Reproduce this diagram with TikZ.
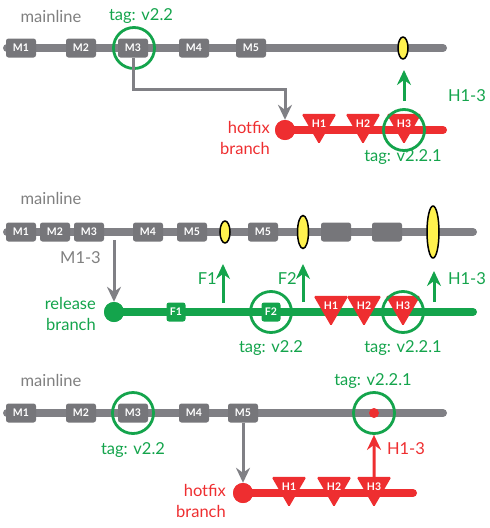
\documentclass[tikz,border=0pt]{standalone}
\usepackage{fontspec}
\setmainfont{Lato}
\usetikzlibrary{arrows.meta,shapes.geometric}
\definecolor{cbar}{HTML}{808085}
\definecolor{cbox}{HTML}{76767A}
\definecolor{cgreen}{HTML}{14A44C}
\definecolor{cred}{HTML}{EE2E30}
\definecolor{cyel}{HTML}{FFF24E}
\definecolor{ctext}{HTML}{808080}
\begin{document}
\begin{tikzpicture}[x=1pt,y=-1pt,
  bar/.style={line width=8pt, line cap=round},
  commit/.style={rectangle, rounded corners=2.5pt, fill=cbox, minimum width=30pt, minimum height=19pt, inner sep=0pt, text=white, font=\fontsize{10.5}{10.5}\selectfont\bfseries},
  fcommit/.style={commit, fill=cgreen, minimum width=19pt},
  tagc/.style={circle, draw=cgreen, line width=2.8pt, minimum size=41pt, inner sep=0pt},
  yel/.style={ellipse, draw=black, line width=1.5pt, fill=cyel, inner sep=0pt},
  hx/.style={regular polygon, regular polygon sides=3, shape border rotate=180, fill=cred, minimum size=35pt, inner sep=0pt, rounded corners=1.5pt, text=white, font=\fontsize{10.5}{10.5}\selectfont\bfseries},
  startc/.style={circle, minimum size=20pt, inner sep=0pt},
  lbl/.style={font=\fontsize{16.5}{21}\selectfont, inner sep=0pt},
  arr/.style={-{Stealth[length=15pt,width=14pt,inset=5pt]}, line width=3pt}
]
\useasboundingbox (0,0) rectangle (490,528);

% ================= Panel 1 =================
\draw[bar, cbar] (7,48) -- (443,48);
\node[lbl, text=ctext] (t1main) at (51,16) {mainline};
\node[lbl, text=cgreen] (t1tag) at (141,16) {tag: v2.2};
\node[commit] (a1m1) at (21,48) {M1};
\node[commit] (a1m2) at (81,48) {M2};
\node[commit] (a1m3) at (133,48) {M3};
\node[commit] (a1m4) at (194,48) {M4};
\node[commit] (a1m5) at (251,48) {M5};
\node[yel, minimum width=10pt, minimum height=22pt] (a1y) at (403,48) {};
\node[tagc] (a1tag) at (134,48) {};
\node[startc, fill=cred] (h1s) at (285,130) {};
\draw[bar, cred] (h1s.center) -- (443,130);
\node[startc, fill=cred] at (285,130) {};
\node[hx] (h1h1) at (319,124) {H1};
\node[hx] (h1h2) at (363,124) {H2};
\node[hx] (h1h3) at (404,124) {H3};
\node[tagc] (h1tag) at (404,130) {};
\draw[arr, cbar] (a1m3.south) -- ++(0,32) -| (h1s.north);
\coordinate (g1a) at (404,101);
\coordinate (g1b) at (404,70);
\draw[arr, cgreen] (g1a) -- (g1b);
\node[lbl, text=cgreen] (t1h13) at (467,96) {H1-3};
\node[lbl, text=cgreen] (t1tag2) at (403,157) {tag: v2.2.1};
\node[lbl, text=cred, align=right, anchor=east] (t1hot) at (270,138) {hotfix\\branch};

% ================= Panel 2 =================
\draw[bar, cbar] (7,232) -- (473,232);
\node[lbl, text=ctext] (t2main) at (51,198) {mainline};
\node[commit] (b1) at (21,232) {M1};
\node[commit] (b2) at (55,232) {M2};
\node[commit] (b3) at (89,232) {M3};
\node[commit] (b4) at (148,232) {M4};
\node[commit] (b5) at (192,232) {M5};
\node[commit] (b6) at (263,232) {M5};
\node[commit] (b7) at (336,232) {};
\node[commit] (b8) at (387,232) {};
\node[yel, minimum width=10pt, minimum height=22pt] (by1) at (225,232) {};
\node[yel, minimum width=11pt, minimum height=33pt] (by2) at (303,232) {};
\node[yel, minimum width=12pt, minimum height=52pt] (by3) at (433,232) {};
\node[startc, fill=cgreen] (rs) at (114,312) {};
\draw[bar, cgreen] (rs.center) -- (473,312);
\node[startc, fill=cgreen] at (114,312) {};
\node[fcommit] (f1) at (176,312) {F1};
\node[fcommit] (f2) at (271,312) {F2};
\node[tagc] (f2tag) at (271,312) {};
\node[hx] (r2h1) at (331,306) {H1};
\node[hx] (r2h2) at (364,306) {H2};
\node[hx] (r2h3) at (403,306) {H3};
\node[tagc] (r2tag) at (403,312) {};
\coordinate (m13a) at (114,240);
\draw[arr, cbar] (m13a) -- (rs.north);
\node[lbl, text=ctext, anchor=east] (t2m13) at (101,258) {M1-3};
\node[lbl, text=cgreen, align=right, anchor=east] (t2rel) at (96,314) {release\\branch};
\coordinate (gf1a) at (223,303);
\coordinate (gf1b) at (223,264);
\draw[arr, cgreen] (gf1a) -- (gf1b);
\node[lbl, text=cgreen, anchor=east] (t2f1) at (217,279) {F1};
\coordinate (gf2a) at (303,302);
\coordinate (gf2b) at (303,264);
\draw[arr, cgreen] (gf2a) -- (gf2b);
\node[lbl, text=cgreen, anchor=east] (t2f2) at (297,279) {F2};
\coordinate (gh2a) at (434,302);
\coordinate (gh2b) at (434,271);
\draw[arr, cgreen] (gh2a) -- (gh2b);
\node[lbl, text=cgreen] (t2h13) at (467,279) {H1-3};
\node[lbl, text=cgreen] (t2tag1) at (271,348) {tag: v2.2};
\node[lbl, text=cgreen] (t2tag2) at (403,348) {tag: v2.2.1};

% ================= Panel 3 =================
\draw[bar, cbar] (7,413) -- (443,413);
\node[lbl, text=ctext] (t3main) at (51,380) {mainline};
\node[commit] (c1) at (21,413) {M1};
\node[commit] (c2) at (81,413) {M2};
\node[commit] (c3) at (133,413) {M3};
\node[commit] (c4) at (194,413) {M4};
\node[commit] (c5) at (243,413) {M5};
\node[tagc] (c3tag) at (133,413) {};
\node[lbl, text=cgreen] (t3tag1) at (133,450) {tag: v2.2};
\node[circle, fill=cred, minimum size=10pt, inner sep=0pt] (cdot) at (374,413) {};
\node[tagc] (cdtag) at (374,413) {};
\node[lbl, text=cgreen] (t3tag2) at (373,381) {tag: v2.2.1};
\node[startc, fill=cred] (h3s) at (243,493) {};
\draw[bar, cred] (h3s.center) -- (413,493);
\node[startc, fill=cred] at (243,493) {};
\node[hx] (c3h1) at (289,487) {H1};
\node[hx] (c3h2) at (334,487) {H2};
\node[hx] (c3h3) at (374,487) {H3};
\draw[arr, cbar] (c5.south) -- (h3s.north);
\draw[arr, cred] (c3h3.north) -- (cdtag.south);
\node[lbl, text=cred] (t3h13) at (406,449) {H1-3};
\node[lbl, text=cred, align=right, anchor=east] (t3hot) at (226,501) {hotfix\\branch};
\end{tikzpicture}
\end{document}
